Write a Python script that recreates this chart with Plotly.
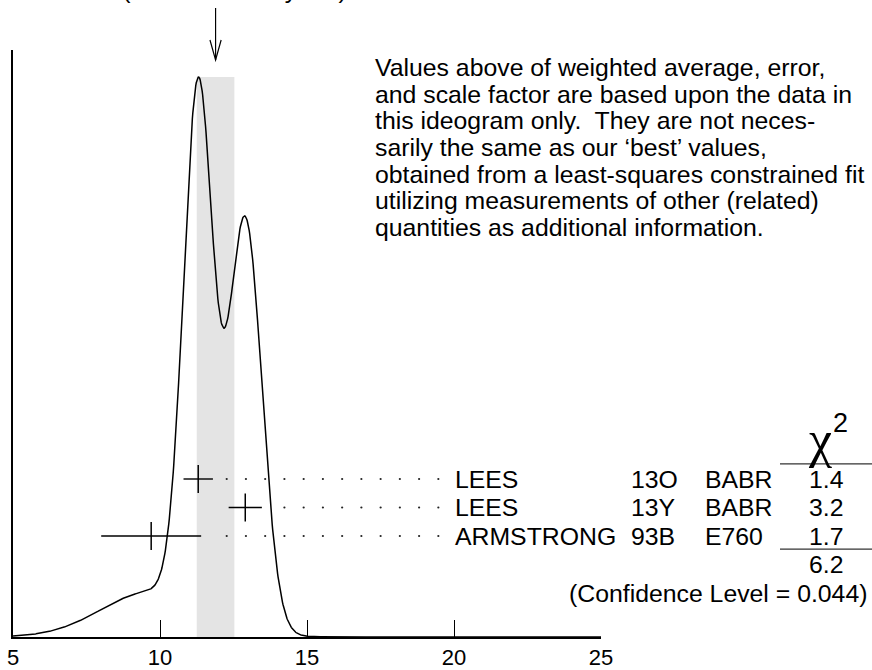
import numpy as np
import plotly.graph_objects as go

# ---------------- data ----------------
names = ["LEES", "LEES", "ARMSTRONG"]
codes = ["13O", "13Y", "93B"]
exps = ["BABR", "BABR", "E760"]
values = [11.3, 12.9, 9.7]
errors = [0.50, 0.565, 1.7]
chi2_labels = ["1.4", "3.2", "1.7"]
chi2_total = "6.2"
conf_level = "(Confidence Level = 0.044)"
avg_value = 11.89
avg_error = 0.64
avg_text = "11.9 \u00b1 0.6 (Error scaled by 1.8)"
x_ticks = [5, 10, 15, 20, 25]
note_lines = [
    "Values above of weighted average, error,",
    "and scale factor are based upon the data in",
    "this ideogram only.  They are not neces-",
    "sarily the same as our \u2018best\u2019 values,",
    "obtained from a least-squares constrained fit",
    "utilizing measurements of other (related)",
    "quantities as additional information.",
]

# ---------------- geometry (pixels) ----------------
W, H = 872, 670
L, R, T, B = 13, 601, 50, 637
PW, PH = R - L, B - T
FONT = "Liberation Sans, Arial, Helvetica, sans-serif"
FS = 24.8
ROW_PX = 28.5          # spacing between measurement rows
ROW1_PX = 536          # pixel y of the lowest measurement row (value 1)


def px_x(p):
    return (p - L) / PW


def px_y(p):
    return (B - p) / PH


y2_lo = 1 - (B - ROW1_PX) / ROW_PX
y2_hi = y2_lo + PH / ROW_PX

# ---------------- ideogram curve ----------------
xs = np.linspace(5, 25, 1201)
curve = np.zeros_like(xs)
for v, e in zip(values, errors):
    curve += (1.0 / e) * np.exp(-0.5 * ((xs - v) / e) ** 2) / (e * np.sqrt(2 * np.pi))
peak = curve.max()
ymax = peak * PH / (B - 77)

fig = go.Figure()

fig.add_trace(go.Scatter(x=xs, y=curve, mode="lines",
                         line=dict(color="black", width=1.5),
                         hoverinfo="skip", showlegend=False))

# measurement rows
n = len(values)
rows = [n - i for i in range(n)]
fig.add_trace(go.Scatter(
    x=values, y=rows, yaxis="y2", mode="markers",
    marker=dict(symbol="line-ns", size=20, line=dict(color="black", width=1.5)),
    error_x=dict(type="data", array=errors, color="black", thickness=1.4, width=0),
    hoverinfo="skip", showlegend=False))

# dotted leader lines
dot_start = 5 + (226.7 - L) / (PW / 20)
dot_step = 19.24 / (PW / 20)
grid = dot_start + dot_step * np.arange(12)
dx, dy = [], []
for v, e, r in zip(values, errors, rows):
    for g in grid:
        if g > v + e + 0.25:
            dx.append(g)
            dy.append(r)
fig.add_trace(go.Scatter(x=dx, y=dy, yaxis="y2", mode="markers",
                         marker=dict(size=2.2, color="#222"),
                         hoverinfo="skip", showlegend=False))

# grey band of weighted average
fig.add_shape(type="rect", xref="x", yref="y", x0=avg_value - avg_error,
              x1=avg_value + avg_error, y0=0, y1=peak,
              fillcolor="#e4e4e4", line=dict(width=0), layer="below")

# arrow
tip = px_y(60)
top = px_y(8)
head = px_y(40)
fig.add_shape(type="line", xref="x", yref="paper", x0=avg_value, x1=avg_value,
              y0=top, y1=tip, line=dict(color="black", width=1.2))
fig.add_shape(type="path", xref="x", yref="paper",
              path=f"M {avg_value - 0.19},{head} L {avg_value},{tip} L {avg_value + 0.19},{head}",
              line=dict(color="black", width=1.2))

ann = []
ann.append(dict(text=avg_text, xref="paper", yref="paper", x=px_x(5), y=px_y(-10),
                xanchor="left", yanchor="middle", showarrow=False,
                font=dict(size=FS, family=FONT, color="black")))

for i, line in enumerate(note_lines):
    ann.append(dict(text=line, xref="paper", yref="paper", x=px_x(373),
                    y=px_y(76 + 26.67 * i - 8.6), xanchor="left", yanchor="middle",
                    showarrow=False, font=dict(size=FS, family=FONT, color="black")))

for nm, cd, ex, c2, r in zip(names, codes, exps, chi2_labels, rows):
    for txt, px, anc in ((nm, 453, "left"), (cd, 629, "left"), (ex, 703, "left"), (c2, 826, "center")):
        ann.append(dict(text=txt, xref="paper", yref="y2", x=px_x(px), y=r,
                        xanchor=anc, yanchor="middle", showarrow=False,
                        font=dict(size=FS, family=FONT, color="black")))

ann.append(dict(text=chi2_total, xref="paper", yref="y2", x=px_x(826), y=0,
                xanchor="center", yanchor="middle", showarrow=False,
                font=dict(size=FS, family=FONT, color="black")))
ann.append(dict(text=conf_level, xref="paper", yref="y2", x=px_x(869), y=-1,
                xanchor="right", yanchor="middle", showarrow=False,
                font=dict(size=FS, family=FONT, color="black")))
# chi-squared header
ann.append(dict(text="\u03c7", xref="paper", yref="paper", x=px_x(820), y=px_y(439),
                xanchor="center", yanchor="middle", showarrow=False,
                font=dict(size=52, family="Liberation Serif, DejaVu Serif, serif", color="black")))
ann.append(dict(text="2", xref="paper", yref="paper", x=px_x(840), y=px_y(423),
                xanchor="center", yanchor="middle", showarrow=False,
                font=dict(size=27, family=FONT, color="black")))

# chi2 column rules
for yv in (3.53, 0.54):
    fig.add_shape(type="line", xref="paper", yref="y2", x0=px_x(780), x1=px_x(872),
                  y0=yv, y1=yv, line=dict(color="#333", width=1.3))

fig.update_layout(
    width=W, height=H,
    margin=dict(l=L, r=W - R, t=T, b=H - B, pad=0),
    paper_bgcolor="white", plot_bgcolor="white",
    showlegend=False,
    annotations=ann,
    font=dict(family=FONT, color="black"),
    xaxis=dict(range=[5, 25], tickvals=x_ticks, ticktext=[str(t) for t in x_ticks],
               ticks="inside", ticklen=17, tickwidth=1.3, tickcolor="black",
               showline=True, linecolor="black", linewidth=1.5,
               showgrid=False, zeroline=False, automargin=False,
               tickfont=dict(size=22, family=FONT, color="black")),
    yaxis=dict(range=[0, ymax], showline=True, linecolor="black", linewidth=1.5,
               showticklabels=False, ticks="", showgrid=False, zeroline=False,
               automargin=False),
    yaxis2=dict(range=[y2_lo, y2_hi], overlaying="y", visible=False, automargin=False),
)

fig.write_html("out.html", config={"displayModeBar": False},
               post_script="document.body.style.margin='0';document.body.style.overflow='hidden';")
